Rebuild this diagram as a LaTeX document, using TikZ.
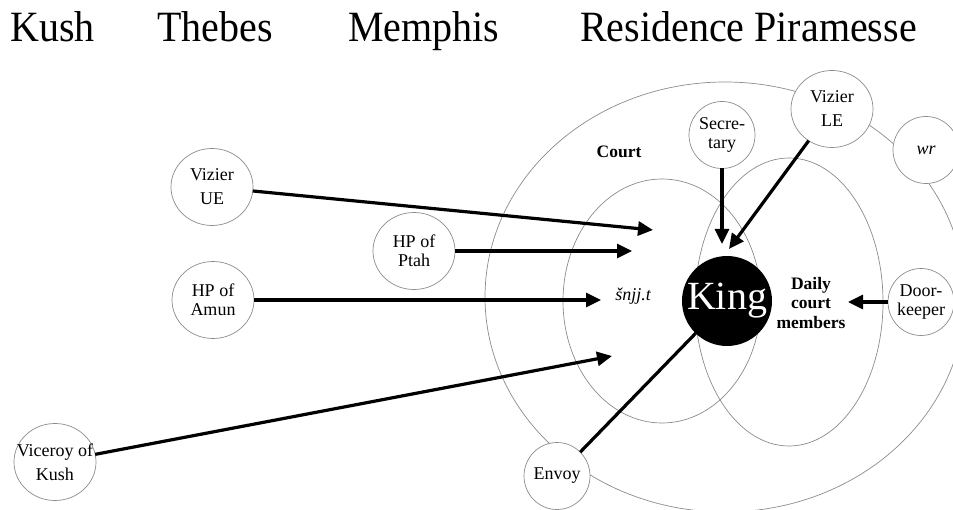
\documentclass[tikz,border=0pt]{standalone}
\usepackage{fontspec}
\setmainfont{Liberation Serif}
\usetikzlibrary{shapes.geometric,arrows.meta}
\begin{document}
\begin{tikzpicture}[x=1pt,y=-1pt,
  region/.style={draw=black!45, line width=0.7pt, ellipse, inner sep=0pt, outer sep=0pt},
  person/.style={draw=black!45, line width=0.7pt, fill=white, ellipse, inner sep=0pt, outer sep=0pt},
  big/.style={person, minimum width=82pt, minimum height=77pt},
  small/.style={person, minimum width=66pt, minimum height=67pt},
  txt/.style={inner sep=0pt, align=center, font=\fontsize{18}{19}\selectfont},
  title/.style={anchor=base west, inner sep=0pt, font=\fontsize{40}{44}\selectfont},
  lbl/.style={inner sep=0pt, align=center, font=\fontsize{17.5}{19.5}\selectfont\bfseries},
  flow/.style={line width=3.2pt, -{Triangle[length=15pt,width=14pt]}},
  link/.style={line width=3.2pt}
]
\useasboundingbox (0,0) rectangle (953,510);
\fill[white] (0,0) rectangle (953,510);

% titles
\node[title] (kush) at (10,42) {\scalebox{1}[1.08]{Kush}};
\node[title] (thebes) at (157,42) {\scalebox{1}[1.08]{Thebes}};
\node[title] (memphis) at (348,42) {\scalebox{1}[1.08]{Memphis}};
\node[title] (residence) at (580,42) {\scalebox{1}[1.08]{Residence Piramesse}};

% regions
\node[region, minimum width=480pt, minimum height=430pt] (court) at (725,297) {};
\node[region, minimum width=198pt, minimum height=244pt] (snjjreg) at (662,301) {};
\node[region, minimum width=188pt, minimum height=288pt] (dailyreg) at (789,302) {};

\node[lbl] (courtlbl) at (619,152) {Court};
\node[txt, font=\fontsize{18}{19}\selectfont\itshape] (snjjlbl) at (633,296) {šnjj.t};
\node[lbl] (dailylbl) at (811,303) {Daily\\court\\members};

% king
\node[circle, fill=black, minimum size=90pt, inner sep=0pt, outer sep=0pt, text=white,
      font=\fontsize{40}{42}\selectfont] (king) at (727,301) {King};

% persons
\node[big, label={[txt]center:{Vizier\\[5pt]UE}}] (vue) at (212,187) {};
\node[big, label={[txt]center:{HP of\\Ptah}}] (ptah) at (414,251) {};
\node[big, label={[txt]center:{HP of\\Amun}}] (amun) at (213,300) {};
\node[big, label={[txt]center:{Viceroy of\\[5pt]Kush}}] (viceroy) at (55,462) {};
\node[small, label={[txt]center:{Secre-\\tary}}] (secretary) at (722,135) {};
\node[big, label={[txt]center:{Vizier\\[5pt]LE}}] (vle) at (832,109) {};
\node[small, label={[txt]center:{\itshape wr}}] (wr) at (926,150) {};
\node[small, label={[txt]center:{Door-\\keeper}}] (door) at (921,302) {};
\node[small, label={[txt]center:{Envoy}}] (envoy) at (557,476) {};

% arrow targets
\coordinate (tvue) at (653,230);
\coordinate (tptah) at (632,251);
\coordinate (tamun) at (601,300);
\coordinate (tviceroy) at (612,356);
\coordinate (tsec) at (722,244);
\coordinate (tvle) at (729,249);
\coordinate (tdoor) at (848,302);

\draw[flow] (vue) -- (tvue);
\draw[flow] (ptah) -- (tptah);
\draw[flow] (amun) -- (tamun);
\draw[flow] (viceroy) -- (tviceroy);
\draw[flow] (secretary) -- (tsec);
\draw[flow] (vle) -- (tvle);
\draw[flow] (door) -- (tdoor);
\draw[link] (king) -- (envoy);
\end{tikzpicture}
\end{document}
